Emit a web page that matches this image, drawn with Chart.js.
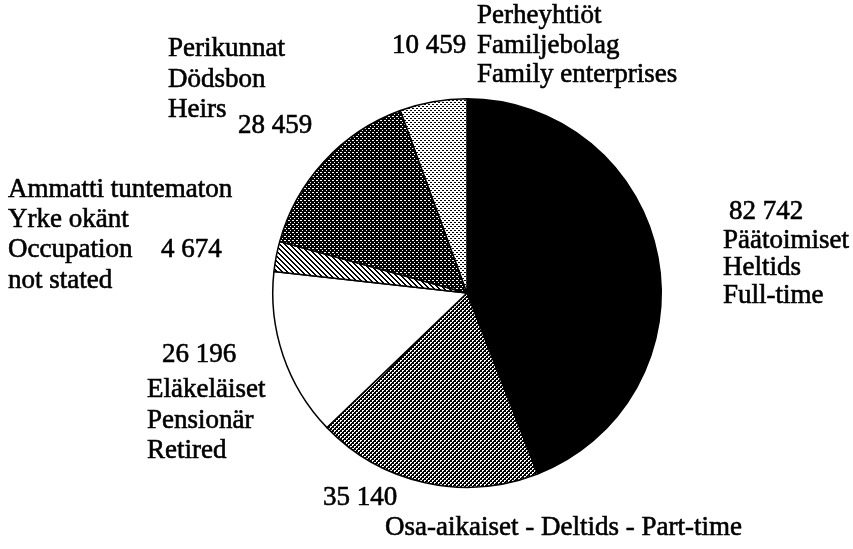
<!DOCTYPE html>
<html>
<head>
<meta charset="utf-8">
<script src="https://cdn.jsdelivr.net/npm/chart.js@4"></script>
<style>
	html, body {
		margin: 0;
		padding: 0;
		background: #fff;
	}
	#wrap {
		position: relative;
		width: 853px;
		height: 549px;
	}
</style>
</head>
<body>
<div id="wrap"><canvas id="owner-pie-chart" width="853" height="549"></canvas></div>
<script>
const categories = ['Full-time', 'Part-time', 'Retired', 'Occupation not stated', 'Heirs', 'Family enterprises'];
const values = [82742, 35140, 26196, 4674, 28459, 10459];
const namesFi = ['Päätoimiset', 'Osa-aikaiset', 'Eläkeläiset', 'Ammatti tuntematon', 'Perikunnat', 'Perheyhtiöt'];
const namesSv = ['Heltids', 'Deltids', 'Pensionär', 'Yrke okänt', 'Dödsbon', 'Familjebolag'];
const namesEn = ['Full-time', 'Part-time', 'Retired', 'Occupation not stated', 'Heirs', 'Family enterprises'];

// where each label block goes: value text and name lines (x, baseline y)
const labelLayout = [
	{ value: [729, 219], lines: [['fi', 723, 248], ['sv', 723, 275], ['en', 723, 303]] },
	{ value: [323, 505], lines: [['all', 385, 535]] },
	{ value: [162, 362], lines: [['fi', 147, 397], ['sv', 147, 428], ['en', 147, 458]] },
	{ value: [161, 257], lines: [['fi', 8, 197], ['sv', 8, 227], ['Occupation', 8, 257], ['not stated', 8, 288]] },
	{ value: [238, 133], lines: [['fi', 168, 56], ['sv', 168, 87], ['en', 168, 117]] },
	{ value: [392, 53], lines: [['fi', 477, 23], ['sv', 477, 53], ['en', 477, 82]] },
];

document.addEventListener('DOMContentLoaded', (event) => {
	ownerPieChart();
});

function fmt(n) {
	return String(n).replace(/\B(?=(\d{3})+(?!\d))/g, ' ');
}

function makePattern(size, bg, fg, cells) {
	const c = document.createElement('canvas');
	c.width = size;
	c.height = size;
	const g = c.getContext('2d');
	g.fillStyle = bg;
	g.fillRect(0, 0, size, size);
	g.fillStyle = fg;
	cells.forEach(([x, y]) => g.fillRect(x, y, 1, 1));
	return g.createPattern(c, 'repeat');
}

function hatchPattern() {
	const cells = [];
	for (let y = 0; y < 5; y++) {
		for (let x = 0; x < 5; x++) {
			const d = ((x - y) % 5 + 5) % 5;
			if (d === 0 || d === 1) cells.push([x, y]);
		}
	}
	return makePattern(5, '#fff', '#000', cells);
}

const labelsPlugin = {
	id: 'sliceLabels',
	afterDraw(chart) {
		const ctx = chart.ctx;
		ctx.save();
		ctx.fillStyle = '#000';
		ctx.strokeStyle = '#000';
		ctx.lineWidth = 0.6;
		ctx.font = '27px "Liberation Serif", "Times New Roman", serif';
		ctx.textAlign = 'left';
		ctx.textBaseline = 'alphabetic';
		const put = (text, x, y) => {
			ctx.fillText(text, x, y);
			ctx.strokeText(text, x, y);
		};
		labelLayout.forEach((item, i) => {
			put(fmt(values[i]), item.value[0], item.value[1]);
			item.lines.forEach(([key, x, y]) => {
				let text = key;
				if (key === 'fi') text = namesFi[i];
				if (key === 'sv') text = namesSv[i];
				if (key === 'en') text = namesEn[i];
				if (key === 'all') text = namesFi[i] + ' - ' + namesSv[i] + ' - ' + namesEn[i];
				put(text, x, y);
			});
		});
		ctx.restore();
	},
};

function ownerPieChart() {
	const ctx = document.getElementById('owner-pie-chart');

	if (!ctx) {
		return;
	}

	const fills = [
		'#000',
		makePattern(4, '#000', '#fff', [[0, 0], [1, 0], [0, 1], [2, 2], [3, 2], [2, 3]]),
		'#fff',
		hatchPattern(),
		makePattern(4, '#000', '#fff', [[0, 0], [2, 2], [1, 0]]),
		makePattern(4, '#fff', '#000', [[0, 0], [1, 0], [2, 2], [3, 2]]),
	];

	new Chart(ctx, {
		type: 'pie',
		data: {
			labels: categories,
			datasets: [
				{
					data: values,
					backgroundColor: fills,
					borderColor: '#000',
					borderWidth: 1.5,
				},
			],
		},
		options: {
			responsive: false,
			animation: false,
			layout: {
				padding: { left: 272, right: 191, top: 98, bottom: 61 },
			},
			plugins: {
				legend: {
					display: false,
				},
				tooltip: {
					enabled: false,
				},
			},
		},
		plugins: [labelsPlugin],
	});
}
</script>
</body>
</html>
